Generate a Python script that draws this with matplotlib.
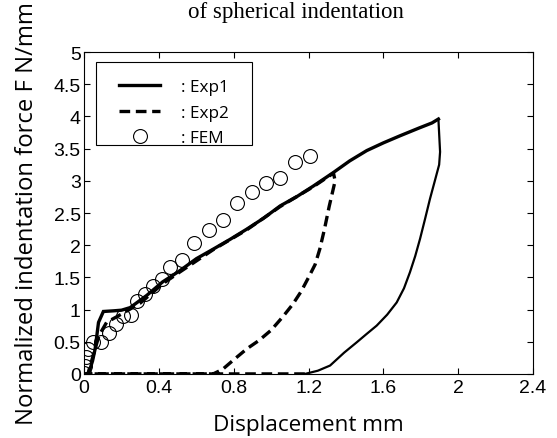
import matplotlib
matplotlib.use("Agg")
import matplotlib.pyplot as plt
from matplotlib.patches import Rectangle

# ---- data ----
exp1_load_x = [0.0, 0.023, 0.045, 0.059, 0.077, 0.103, 0.157, 0.20, 0.246, 0.335,
               0.42, 0.51, 0.60, 0.691, 0.78, 0.87, 0.96, 1.048, 1.14, 1.226,
               1.333, 1.42, 1.511, 1.60, 1.689, 1.79, 1.86, 1.894]
exp1_load_y = [0.0, 0.0, 0.2, 0.39, 0.80, 0.97, 0.98, 0.99, 1.03, 1.22,
               1.43, 1.60, 1.79, 1.94, 2.09, 2.25, 2.42, 2.61, 2.76, 2.92,
               3.13, 3.31, 3.47, 3.59, 3.70, 3.82, 3.90, 3.96]

exp1_unload_x = [1.894, 1.903, 1.898, 1.875, 1.849, 1.822, 1.796, 1.77, 1.742, 1.71,
                 1.671, 1.62, 1.564, 1.51, 1.457, 1.39, 1.315, 1.25, 1.181]
exp1_unload_y = [3.96, 3.45, 3.25, 3.0, 2.72, 2.40, 2.10, 1.83, 1.58, 1.33,
                 1.11, 0.92, 0.75, 0.62, 0.49, 0.33, 0.13, 0.05, 0.0]

exp2_x = [1.18, 0.02, 0.05, 0.08, 0.12, 0.2, 0.3, 0.42, 0.51, 0.69, 0.87, 1.048,
          1.226, 1.333, 1.342, 1.33, 1.31, 1.285, 1.26, 1.235, 1.2, 1.16, 1.115,
          1.06, 1.0, 0.935, 0.87, 0.8, 0.74, 0.69, 0.0]
exp2_y = [0.0, 0.0, 0.3, 0.6, 0.8, 0.93, 1.1, 1.4, 1.58, 1.93, 2.24, 2.6,
          2.91, 3.12, 3.0, 2.85, 2.6, 2.25, 1.94, 1.7, 1.5, 1.28, 1.08,
          0.88, 0.68, 0.52, 0.39, 0.22, 0.07, 0.0, 0.0]

fem_x = [0.0, 0.003, 0.008, 0.02, 0.045, 0.09, 0.135, 0.17, 0.21, 0.25, 0.285,
         0.325, 0.37, 0.415, 0.46, 0.525, 0.59, 0.665, 0.74, 0.82, 0.895, 0.97,
         1.045, 1.13, 1.21]
fem_y = [0.02, 0.13, 0.26, 0.38, 0.49, 0.49, 0.64, 0.78, 0.9, 0.92, 1.14,
         1.24, 1.36, 1.48, 1.66, 1.77, 2.04, 2.24, 2.39, 2.65, 2.82, 2.96,
         3.04, 3.3, 3.39]

x_ticks = [0, 0.4, 0.8, 1.2, 1.6, 2, 2.4]
x_tick_labels = ["0", "0.4", "0.8", "1.2", "1.6", "2", "2.4"]
y_ticks = [0, 0.5, 1, 1.5, 2, 2.5, 3, 3.5, 4, 4.5, 5]
y_tick_labels = ["0", "0.5", "1", "1.5", "2", "2.5", "3", "3.5", "4", "4.5", "5"]

LABEL_FONT = ["Open Sans", "DejaVu Sans"]
TICK_FONT = ["Liberation Sans", "DejaVu Sans"]

fig, ax = plt.subplots(figsize=(5.57, 4.39), dpi=100)
fig.subplots_adjust(left=0.151, right=0.957, bottom=0.146, top=0.879)

ax.plot(exp1_load_x, exp1_load_y, color="black", lw=2.4, label=": Exp1",
        solid_joinstyle="miter")
ax.plot(exp1_unload_x, exp1_unload_y, color="black", lw=1.6)
ax.plot(exp2_x, exp2_y, color="black", lw=2.4, linestyle=(0, (3.2, 1.7)),
        dash_capstyle="butt", label=": Exp2")
ax.plot(fem_x, fem_y, linestyle="none", marker="o", markersize=10,
        markerfacecolor="none", markeredgecolor="black", markeredgewidth=0.8,
        label=": FEM")

ax.set_xlim(0, 2.4)
ax.set_ylim(0, 5)
ax.set_xticks(x_ticks)
ax.set_xticklabels(x_tick_labels)
ax.set_yticks(y_ticks)
ax.set_yticklabels(y_tick_labels)
ax.tick_params(direction="in", top=True, right=True, length=4, width=0.8,
               labelsize=14)
ax.tick_params(axis="x", pad=4)
ax.tick_params(axis="y", pad=2.5)
for lab in ax.get_xticklabels() + ax.get_yticklabels():
    lab.set_family(TICK_FONT)
for sp in ax.spines.values():
    sp.set_linewidth(0.8)

ax.set_xlabel("Displacement mm", family=LABEL_FONT, fontsize=16.2, labelpad=12.5)
ax.set_ylabel("Normalized indentation force F N/mm", family=LABEL_FONT,
              fontsize=17.2, labelpad=10)

# legend entries without frame, plus a separate square box (MATLAB style)
leg = ax.legend(loc="upper left", bbox_to_anchor=(0.078, 0.915),
                borderaxespad=0, borderpad=0, frameon=False,
                prop={"family": LABEL_FONT, "size": 12.3},
                handlelength=2.4, handletextpad=1.2, labelspacing=0.55)
ax.add_patch(Rectangle((0.026, 0.711), 0.347, 0.257, transform=ax.transAxes,
                       facecolor="white", edgecolor="black", lw=0.8, zorder=4))
leg.set_zorder(5)

fig.text(0.532, 1 - 17.8 / 439, "of spherical indentation", ha="center",
         va="baseline", family=["Liberation Serif", "DejaVu Serif"], fontsize=16.5)

fig.savefig("out.png", dpi=100)
